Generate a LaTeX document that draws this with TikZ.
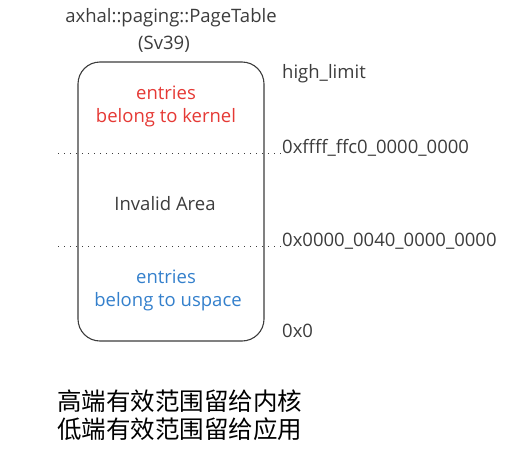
\documentclass[tikz,border=0pt]{standalone}
\usepackage{fontspec}
\setmainfont{Open Sans}
\newfontfamily\cjk{Noto Sans CJK SC}
\definecolor{kernred}{RGB}{229,57,53}
\definecolor{userblue}{RGB}{52,128,204}
\definecolor{txtgray}{RGB}{60,60,60}

\begin{document}
\begin{tikzpicture}[x=1pt, y=-1pt,
    every node/.style={font=\fontsize{18.5}{22}\selectfont, text=txtgray, inner sep=0pt},
    addr/.style={anchor=west},
    bound/.style={draw=txtgray, line width=1pt, dash pattern=on 1.2pt off 4.8pt}]
    \useasboundingbox (0,0) rectangle (529,455);

    \node (title) at (171,18) {axhal::paging::PageTable};
    \node (sv) at (164,44) {(Sv39)};

    \draw[txtgray, line width=1.1pt, rounded corners=22pt] (78,62) rectangle (264,341);

    \node[text=kernred] (kent) at (166,93) {entries};
    \node[text=kernred] (kbel) at (166,118) {belong to kernel};
    \node (inv) at (165,204) {Invalid Area};
    \node[text=userblue] (uent) at (166,277) {entries};
    \node[text=userblue] (ubel) at (168,302) {belong to uspace};

    \coordinate (hl) at (58,153);
    \coordinate (hr) at (282,153);
    \coordinate (ll) at (58,246);
    \coordinate (lr) at (282,246);
    \draw[bound] (hl) -- (hr);
    \draw[bound] (ll) -- (lr);

    \node[addr] (top) at (282,74) {high\_limit};
    \node[addr] (kaddr) at (282,148) {0xffff\_ffc0\_0000\_0000};
    \node[addr] (uaddr) at (282,241) {0x0000\_0040\_0000\_0000};
    \node[addr] (zero) at (282,331) {0x0};

    \node[anchor=west, text=black, font=\cjk\fontsize{24.5}{28}\selectfont] (note1) at (57,401) {高端有效范围留给内核};
    \node[anchor=west, text=black, font=\cjk\fontsize{24.5}{28}\selectfont] (note2) at (57,429) {低端有效范围留给应用};
\end{tikzpicture}
\end{document}
